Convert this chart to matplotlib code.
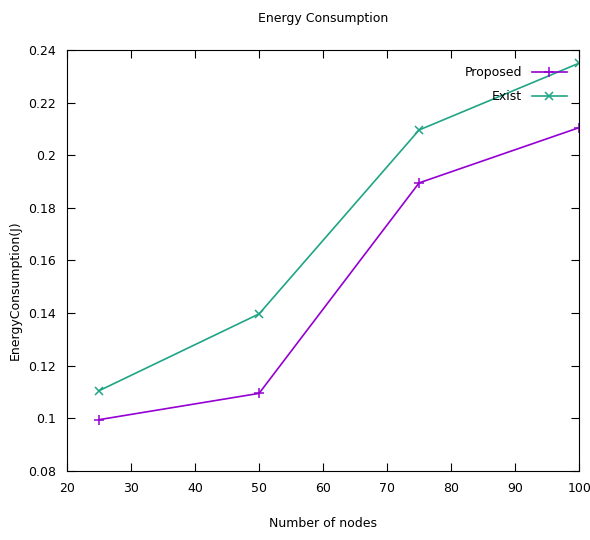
import matplotlib
matplotlib.use("Agg")
import matplotlib.pyplot as plt

nodes = [25, 50, 75, 100]
proposed = [0.0995, 0.1095, 0.1895, 0.2105]
exist = [0.1105, 0.1397, 0.2096, 0.2350]

fig = plt.figure(figsize=(5.9, 5.4), dpi=100)
ax = fig.add_axes([0.1136, 0.1278, 0.868, 0.7796])

ax.plot(nodes, proposed, color="#9400d3", marker="+", markersize=7, mew=1.1, lw=1.2, label="Proposed")
ax.plot(nodes, exist, color="#1fa585", marker="x", markersize=6, mew=1.1, lw=1.2, label="Exist")

ax.set_xlim(20, 100)
ax.set_ylim(0.08, 0.24)
ax.set_xticks(range(20, 101, 10))
ax.set_yticks([0.08, 0.1, 0.12, 0.14, 0.16, 0.18, 0.2, 0.22, 0.24])
ax.set_yticklabels(["0.08", "0.1", "0.12", "0.14", "0.16", "0.18", "0.2", "0.22", "0.24"])
ax.tick_params(direction="in", top=True, right=True, length=6, labelsize=9, pad=8)

ax.set_title("Energy Consumption", fontsize=9, pad=20)
ax.set_xlabel("Number of nodes", fontsize=9, labelpad=16)
ax.set_ylabel("EnergyConsumption(J)", fontsize=9)
ax.yaxis.set_label_coords(-0.088, 0.43)

ax.legend(loc="upper right", bbox_to_anchor=(1.008, 1.0), frameon=False,
          markerfirst=False, fontsize=9, handlelength=2.8,
          borderaxespad=0.9, labelspacing=0.85)

fig.savefig("out.png", dpi=100)
